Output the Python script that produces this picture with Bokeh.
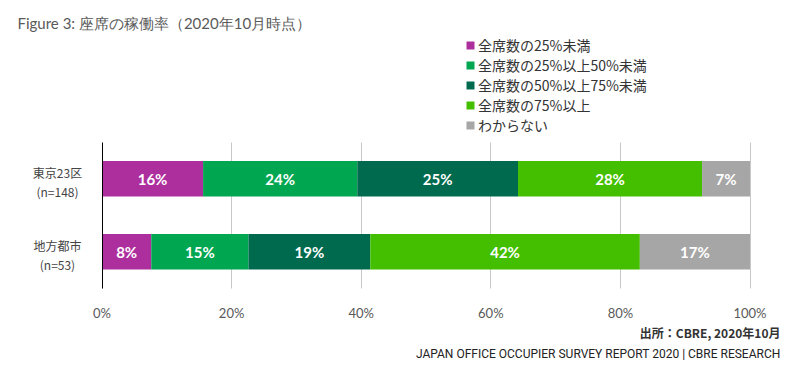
from bokeh.plotting import figure
from bokeh.models import ColumnDataSource, Range1d, FixedTicker, PrintfTickFormatter, Label, Grid
from bokeh.core.properties import value
from bokeh.embed import file_html
from bokeh.resources import INLINE

title_text = "Figure 3: 座席の稼働率（2020年10月時点）"
categories = ["地方都市\n(n=53)", "東京23区\n(n=148)"]
series = ["全席数の25%未満", "全席数の25%以上50%未満", "全席数の50%以上75%未満", "全席数の75%以上", "わからない"]
tokyo = [15.6, 23.8, 24.8, 28.4, 7.4]
local = [7.6, 15.0, 18.8, 41.6, 17.0]
colors = ["#AD2F9E", "#00A650", "#006A4E", "#43BF00", "#A6A6A6"]
x_ticks = [0, 20, 40, 60, 80, 100]
source_note = "出所：CBRE, 2020年10月"
footer_note = "JAPAN OFFICE OCCUPIER SURVEY REPORT 2020 | CBRE RESEARCH"

values_by_cat = [local, tokyo]
cat_pos = list(range(len(categories)))

data = {"y": cat_pos}
for i, s in enumerate(series):
    data[s] = [vals[i] for vals in values_by_cat]
src = ColumnDataSource(data)

W, H = 800, 370
p = figure(width=W, height=H, output_backend="svg", toolbar_location=None,
           x_range=Range1d(-15.664, 107.793), y_range=Range1d(-1.6296, 3.4458),
           min_border=0, min_border_left=0, min_border_right=0,
           min_border_top=0, min_border_bottom=0)
p.outline_line_color = None
p.background_fill_color = "white"
p.border_fill_color = "white"

p.hbar_stack(series, y="y", height=0.487, color=colors, source=src,
             legend_label=series, line_color=None)

# value labels
lx, ly, lt = [], [], []
for yi, vals in zip(cat_pos, values_by_cat):
    cum = 0
    for v in vals:
        lx.append(cum + v / 2)
        ly.append(yi)
        lt.append(f"{round(v)}%")
        cum += v
p.text(x=lx, y=ly, text=lt, text_align="center", text_baseline="middle",
       text_color="white", text_font=value("Lato"), text_font_style="bold",
       text_font_size="15px")

# category labels (left of the axis)
p.text(x=[-6.87] * len(categories), y=cat_pos, text=categories, text_align="center",
       text_baseline="middle", text_color="#444444", text_font=value("Noto Sans CJK JP"),
       text_font_size="12px", text_line_height=1.1, y_offset=3)

# axes
p.xaxis.fixed_location = -0.5
p.xaxis.ticker = FixedTicker(ticks=x_ticks)
p.xaxis.formatter = PrintfTickFormatter(format="%d%%")
p.xaxis.axis_line_color = None
p.xaxis.major_tick_line_color = None
p.xaxis.minor_tick_line_color = None
p.xaxis.major_label_standoff = 11
p.xaxis.major_label_text_font = "Lato"
p.xaxis.major_label_text_font_size = "13px"
p.xaxis.major_label_text_color = "#595959"

p.yaxis.fixed_location = 0
p.yaxis.bounds = (-0.5, 1.5)
p.yaxis.ticker = FixedTicker(ticks=[])
p.yaxis.axis_line_color = "black"
p.yaxis.axis_line_width = 1
p.yaxis.major_tick_line_color = None
p.yaxis.minor_tick_line_color = None

p.ygrid.grid_line_color = None
if "cross_bounds" in Grid.properties():
    p.xgrid.ticker = FixedTicker(ticks=x_ticks)
    p.xgrid.cross_bounds = (-0.5, 1.5)
    p.xgrid.grid_line_color = "#C8C8C8"
else:
    p.xgrid.grid_line_color = None
    p.segment(x0=x_ticks, x1=x_ticks, y0=-0.5, y1=1.5, line_color="#C8C8C8",
              line_width=1, level="underlay")

# legend
lg = p.legend[0]
lg.location = (465, 235)
lg.glyph_width = 10
lg.glyph_height = 10
lg.label_height = 20
lg.label_standoff = 3
lg.spacing = 0
lg.padding = 0
lg.margin = 0
lg.border_line_color = None
lg.background_fill_alpha = 0
lg.label_text_font = "Noto Sans CJK JP"
lg.label_text_font_size = "14px"
lg.label_text_color = "#333333"

# title and footers
p.add_layout(Label(x=17, y=348, x_units="screen", y_units="screen", text=title_text,
                   text_font="Lato", text_font_size="15px", text_color="#5A5A5A",
                   text_baseline="middle", text_align="left"))
p.add_layout(Label(x=780, y=38, x_units="screen", y_units="screen", text=source_note,
                   text_font="Noto Sans CJK JP", text_font_size="12px", text_color="#333333",
                   text_font_style="bold", text_baseline="middle", text_align="right"))
p.add_layout(Label(x=780, y=17, x_units="screen", y_units="screen", text=footer_note,
                   text_font="Roboto", text_font_size="12px", text_color="#222222",
                   text_baseline="middle", text_align="right"))

open("out.html", "w").write(file_html(p, INLINE))
